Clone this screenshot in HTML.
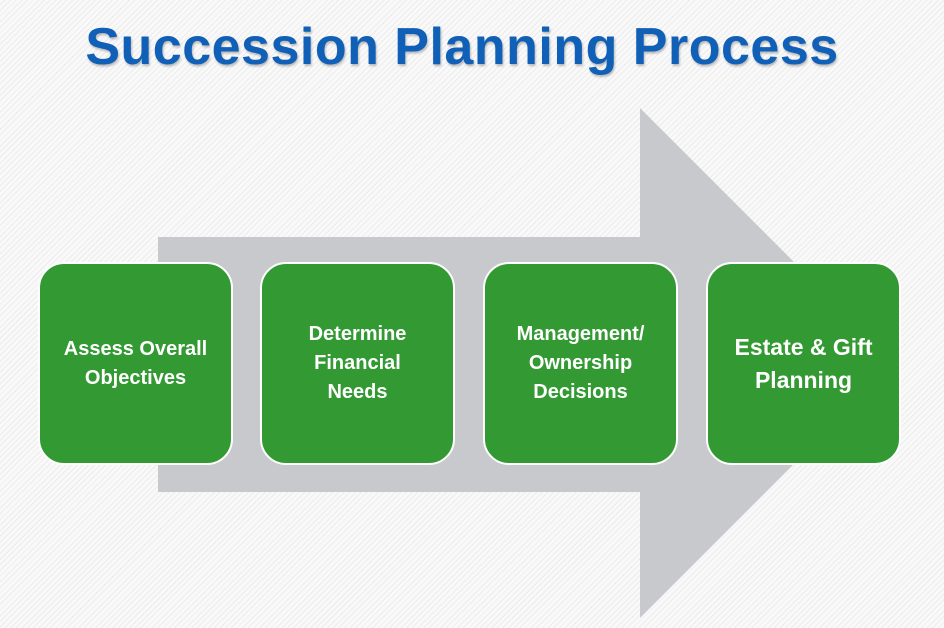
<!DOCTYPE html>
<html><head><style>
body{margin:0;width:944px;height:628px;overflow:hidden;position:relative;font-family:"Liberation Sans",sans-serif;
background:#f7f7f7 repeating-linear-gradient(135deg,#f9f9f9 0 3px,#ececec 3px 4px);}
h1{position:absolute;left:0;width:924px;top:17px;margin:0;text-align:center;font-size:52px;font-weight:bold;color:#1060b8;text-shadow:1px 2px 2px rgba(0,0,0,0.25);letter-spacing:0.5px}
.b{position:absolute;top:262px;width:191px;height:199px;background:#339933;border:2px solid #fff;border-radius:26px;color:#fff;font-weight:bold;font-size:20px;line-height:29px;display:flex;align-items:center;justify-content:center;text-align:center;box-sizing:content-box}
</style></head><body>
<h1>Succession Planning Process</h1>
<svg width="944" height="628" style="position:absolute;left:0;top:0">
<polygon points="158,237 640,237 640,108 895,363 640,618 640,492 158,492" fill="#c8c9cd"/>
</svg>
<div class="b" style="left:38px"><span>Assess Overall<br>Objectives</span></div>
<div class="b" style="left:260px"><span>Determine<br>Financial<br>Needs</span></div>
<div class="b" style="left:483px"><span>Management/<br>Ownership<br>Decisions</span></div>
<div class="b" style="left:706px;font-size:23px;line-height:33px"><span>Estate &amp; Gift<br>Planning</span></div>
</body></html>
